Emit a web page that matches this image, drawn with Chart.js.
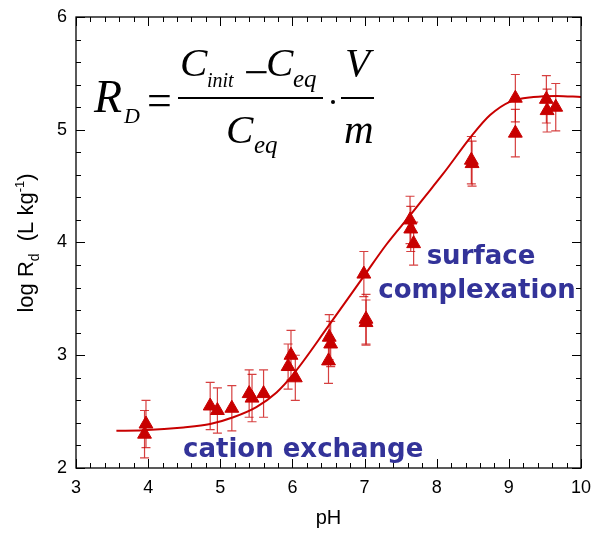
<!DOCTYPE html>
<html lang="en">
<head>
    <meta charset="UTF-8">
    <title>log Rd vs pH</title>
    <script src="https://cdn.jsdelivr.net/npm/chart.js"></script>
    <style>
        html, body { margin: 0; padding: 0; background: #ffffff; }
        .chart-container { width: 595px; height: 534px; }
    </style>
</head>
<body>
    <div class="chart-container">
        <canvas id="rdChart" width="595" height="534"></canvas>
    </div>

    <script>
        // measured points: pH, log Rd and its uncertainty
        const phVals = [3.97, 3.95, 4.86, 4.96, 5.16, 5.40, 5.44, 5.60, 5.94, 5.98, 6.04, 6.51, 6.53, 6.50, 6.99, 7.02, 7.02, 7.63, 7.64, 7.68, 8.48, 8.49, 9.09, 9.09, 9.52, 9.53, 9.65];
        const logRd = [2.39, 2.30, 2.55, 2.51, 2.53, 2.66, 2.62, 2.66, 2.90, 3.00, 2.80, 3.16, 3.10, 2.95, 3.72, 3.32, 3.29, 4.20, 4.12, 3.99, 4.73, 4.70, 5.28, 4.97, 5.27, 5.17, 5.20];
        const errVals = [0.21, 0.21, 0.21, 0.20, 0.20, 0.21, 0.21, 0.21, 0.20, 0.22, 0.20, 0.20, 0.20, 0.20, 0.20, 0.22, 0.20, 0.21, 0.20, 0.19, 0.21, 0.20, 0.21, 0.21, 0.21, 0.19, 0.21];

        // model fit
        const fitPh = [3.56, 3.93, 4.49, 4.86, 5.18, 5.50, 5.78, 6.01, 6.5, 7.0, 7.3, 7.63, 7.79, 8.09, 8.49, 8.74, 9.02, 9.34, 9.66, 10.0];
        const fitLogRd = [2.33, 2.335, 2.36, 2.39, 2.45, 2.54, 2.67, 2.83, 3.26, 3.71, 3.98, 4.24, 4.37, 4.61, 4.95, 5.13, 5.25, 5.29, 5.30, 5.29];

        const xTicks = [3, 4, 5, 6, 7, 8, 9, 10];
        const yTicks = [2, 3, 4, 5, 6];

        const RED = '#c80000';
        const BLUE = '#333399';
        const SANS = '"Liberation Sans", Arial, sans-serif';
        const SERIF = '"Liberation Serif", "Times New Roman", serif';

        // error bars with caps
        const errorBars = {
            id: 'errorBars',
            beforeDatasetsDraw(chart) {
                const c = chart.ctx, xs = chart.scales.x, ys = chart.scales.y;
                c.save();
                c.strokeStyle = 'rgba(200,0,0,0.75)';
                c.lineWidth = 1.2;
                phVals.forEach((p, i) => {
                    const x = xs.getPixelForValue(p);
                    const yt = ys.getPixelForValue(logRd[i] + errVals[i]);
                    const yb = ys.getPixelForValue(logRd[i] - errVals[i]);
                    c.beginPath();
                    c.moveTo(x, yt); c.lineTo(x, yb);
                    c.moveTo(x - 4.5, yt); c.lineTo(x + 4.5, yt);
                    c.moveTo(x - 4.5, yb); c.lineTo(x + 4.5, yb);
                    c.stroke();
                });
                c.restore();
            }
        };

        // frame + inward ticks on all four sides
        const frame = {
            id: 'frame',
            afterDraw(chart) {
                const c = chart.ctx, a = chart.chartArea;
                const xs = chart.scales.x, ys = chart.scales.y;
                c.save();
                c.strokeStyle = '#000';
                c.lineWidth = 1.3;
                c.strokeRect(a.left, a.top, a.right - a.left, a.bottom - a.top);
                c.lineWidth = 1;
                c.beginPath();
                for (let v = 3; v <= 10.001; v += 0.2) {
                    const major = Math.abs(v - Math.round(v)) < 0.01;
                    const len = major ? 9 : 5;
                    const x = Math.round(xs.getPixelForValue(v)) + 0.5;
                    c.moveTo(x, a.bottom); c.lineTo(x, a.bottom - len);
                    c.moveTo(x, a.top); c.lineTo(x, a.top + len);
                }
                for (let v = 2; v <= 6.001; v += 0.2) {
                    const major = Math.abs(v - Math.round(v)) < 0.01;
                    const len = major ? 9 : 5;
                    const y = Math.round(ys.getPixelForValue(v)) + 0.5;
                    c.moveTo(a.left, y); c.lineTo(a.left + len, y);
                    c.moveTo(a.right, y); c.lineTo(a.right - len, y);
                }
                c.stroke();
                c.restore();
            }
        };

        // labels inside the plot: equation and the two regimes
        const notes = {
            id: 'notes',
            afterDatasetsDraw(chart) {
                const c = chart.ctx;
                c.save();
                c.fillStyle = BLUE;
                c.font = 'bold 26px "DejaVu Sans", Verdana, sans-serif';
                c.textBaseline = 'alphabetic';
                c.textAlign = 'left';
                c.fillText('cation exchange', 183, 457);
                c.textAlign = 'center';
                c.fillText('surface', 481, 264);
                c.fillText('complexation', 477, 298);

                // R_D = (C_init - C_eq) / C_eq . V / m
                c.fillStyle = '#000';
                c.textAlign = 'left';
                c.font = 'italic 46px ' + SERIF;
                c.fillText('R', 94, 112);
                c.font = 'italic 22px ' + SERIF;
                c.fillText('D', 124, 123);
                c.font = '44px ' + SERIF;
                c.fillText('=', 147, 115);
                c.fillText('\u2212', 244, 87);
                c.font = 'italic 41px ' + SERIF;
                c.fillText('C', 180, 76);
                c.fillText('C', 266, 76);
                c.fillText('C', 226, 143);
                c.fillText('V', 345, 76);
                c.fillText('m', 344, 143);
                c.font = 'italic 20px ' + SERIF;
                c.fillText('init', 207, 87);
                c.font = 'italic 25px ' + SERIF;
                c.fillText('eq', 293, 87);
                c.fillText('eq', 254, 153);
                c.fillRect(178, 97, 145, 2);
                c.fillRect(341, 97, 33, 2);
                c.beginPath();
                c.arc(333, 102, 2, 0, Math.PI * 2);
                c.fill();
                c.restore();
            }
        };

        // y title with subscript and superscript
        const yTitle = {
            id: 'yTitle',
            afterDraw(chart) {
                const c = chart.ctx;
                c.save();
                c.translate(27, 243);
                c.rotate(-Math.PI / 2);
                c.fillStyle = '#000';
                c.textBaseline = 'alphabetic';
                const parts = [
                    ['log R', 22, 0],
                    ['d', 14, 6],
                    ['  (L kg', 22, 0],
                    ['-1', 13, -9],
                    [')', 22, 0]
                ];
                let total = 0;
                parts.forEach(p => { c.font = p[1] + 'px ' + SANS; total += c.measureText(p[0]).width; });
                let x = -total / 2;
                parts.forEach(p => {
                    c.font = p[1] + 'px ' + SANS;
                    c.fillText(p[0], x, 6 + p[2]);
                    x += c.measureText(p[0]).width;
                });
                c.restore();
            }
        };

        const ctx = document.getElementById('rdChart').getContext('2d');
        new Chart(ctx, {
            type: 'scatter',
            data: {
                datasets: [{
                    label: 'fit',
                    data: fitPh.map((p, i) => ({ x: p, y: fitLogRd[i] })),
                    showLine: true,
                    borderColor: RED,
                    borderWidth: 2,
                    pointRadius: 0,
                    cubicInterpolationMode: 'monotone'
                }, {
                    label: 'log Rd',
                    data: phVals.map((p, i) => ({ x: p, y: logRd[i] })),
                    pointStyle: 'triangle',
                    pointRadius: 8,
                    backgroundColor: RED,
                    borderColor: RED,
                    borderWidth: 1
                }]
            },
            options: {
                responsive: false,
                animation: false,
                layout: { padding: { top: 17, right: 14, left: 0, bottom: 0 } },
                plugins: {
                    legend: { display: false },
                    tooltip: { enabled: false }
                },
                scales: {
                    x: {
                        type: 'linear',
                        min: 3, max: 10,
                        afterFit(s) { s.height = 66; s.paddingLeft = 0; s.paddingRight = 0; },
                        afterBuildTicks(s) { s.ticks = xTicks.map(v => ({ value: v })); },
                        grid: { display: false, drawTicks: false },
                        border: { display: false },
                        ticks: { color: '#000', padding: 9, font: { family: SANS, size: 18 } },
                        title: { display: true, text: 'pH', color: '#000', padding: { top: 6 }, font: { family: SANS, size: 20 } }
                    },
                    y: {
                        type: 'linear',
                        min: 2, max: 6,
                        afterFit(s) { s.width = 76; s.paddingTop = 0; s.paddingBottom = 0; },
                        afterBuildTicks(s) { s.ticks = yTicks.map(v => ({ value: v })); },
                        grid: { display: false, drawTicks: false },
                        border: { display: false },
                        ticks: { color: '#000', padding: 9, font: { family: SANS, size: 18 } }
                    }
                }
            },
            plugins: [errorBars, notes, frame, yTitle]
        });
    </script>
</body>
</html>
